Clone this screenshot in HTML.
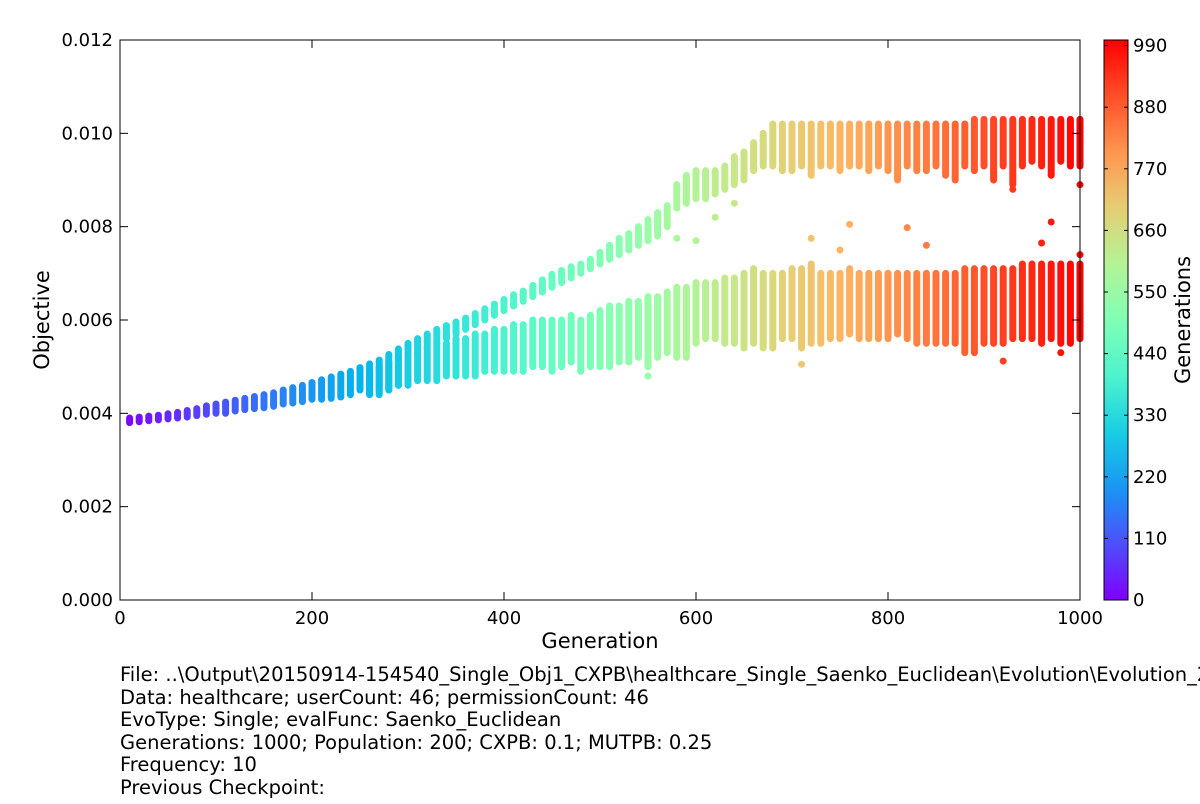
<!DOCTYPE html>
<html><head><meta charset="utf-8"><style>
body{margin:0;background:#fff;font-family:"DejaVu Sans",sans-serif}
svg text{font-family:"DejaVu Sans",sans-serif}
</style></head><body>
<svg id="chart" width="1200" height="800" xmlns="http://www.w3.org/2000/svg">
<defs>
<linearGradient id="cbg" x1="0" y1="1" x2="0" y2="0"></linearGradient>
</defs>
<g id="marks"></g>
<rect x="120" y="40" width="960" height="560" fill="none" stroke="#000" stroke-width="1"/>
<g id="axes"></g>
<text x="600" y="648" font-size="21" text-anchor="middle">Generation</text>
<text x="49" y="320" font-size="21" text-anchor="middle" transform="rotate(-90 49 320)">Objective</text>
<rect x="1104" y="40" width="24" height="560" fill="url(#cbg)" stroke="#000" stroke-width="1"/>
<g id="cbaxis"></g>
<text x="1190" y="320" font-size="21" text-anchor="middle" transform="rotate(-90 1190 320)">Generations</text>
<g font-size="19.5">
<text x="120" y="681">File: ..\Output\20150914-154540_Single_Obj1_CXPB\healthcare_Single_Saenko_Euclidean\Evolution\Evolution_2</text>
<text x="120" y="704">Data: healthcare; userCount: 46; permissionCount: 46</text>
<text x="120" y="726">EvoType: Single; evalFunc: Saenko_Euclidean</text>
<text x="120" y="749">Generations: 1000; Population: 200; CXPB: 0.1; MUTPB: 0.25</text>
<text x="120" y="771">Frequency: 10</text>
<text x="120" y="794">Previous Checkpoint:</text>
</g>
</svg>
<script>
const xTicks=[0,200,400,600,800,1000];
const yTicks=[0,0.002,0.004,0.006,0.008,0.010,0.012];
const yTickLabels=["0.000","0.002","0.004","0.006","0.008","0.010","0.012"];
const cbTicks=[0,110,220,330,440,550,660,770,880,990];
const upperHi=[3.9,3.92,3.94,3.96,3.99,4.02,4.06,4.1,4.16,4.2,
4.24,4.28,4.32,4.36,4.4,4.44,4.5,4.55,4.6,4.66,
4.72,4.78,4.84,4.9,4.98,5.06,5.14,5.26,5.38,5.5,
5.6,5.7,5.8,5.88,5.96,6.04,6.14,6.24,6.34,6.44,
6.54,6.62,6.74,6.86,6.98,7.06,7.14,7.2,7.3,7.45,
7.6,7.75,7.85,8,8.15,8.3,8.45,8.9,9.1,9.2,
9.2,9.2,9.3,9.5,9.6,9.8,10.0,10.2,10.2,10.2,
10.2,10.2,10.2,10.2,10.2,10.2,10.2,10.2,10.2,10.2,
10.2,10.2,10.2,10.2,10.2,10.2,10.2,10.2,10.3,10.3,
10.3,10.3,10.3,10.3,10.3,10.3,10.3,10.3,10.3,10.3];
const upperLo=[3.8,3.82,3.84,3.86,3.88,3.9,3.92,3.95,3.98,4.0,
4.0,4.05,4.08,4.1,4.12,4.15,4.2,4.22,4.25,4.3,
4.3,4.32,4.35,4.4,4.5,4.5,4.4,4.5,4.6,4.7,
5.3,5.4,5.5,5.6,5.7,5.8,5.9,6.0,6.1,6.2,
6.3,6.4,6.5,6.6,6.7,6.8,6.9,7.0,7.1,7.2,
7.3,7.4,7.5,7.6,7.7,7.8,8.0,8.4,8.5,8.6,
8.6,8.7,8.8,8.9,9.0,9.2,9.3,9.3,9.2,9.2,
9.3,9.1,9.3,9.3,9.2,9.3,9.3,9.2,9.3,9.2,
9.0,9.3,9.2,9.2,9.3,9.1,9.0,9.3,9.2,9.3,
9.0,9.3,8.9,9.3,9.4,9.3,9.1,9.4,9.3,9.3];
const lowerHi=[null,null,null,null,null,null,null,null,null,null,
null,null,null,null,null,null,null,null,null,null,
null,null,null,null,null,4.9,5.0,5.1,5.2,5.3,
5.3,5.4,5.5,5.5,5.6,5.6,5.7,5.7,5.8,5.8,
5.9,5.9,6.0,6.0,6.0,6.0,6.1,6.0,6.1,6.2,
6.3,6.3,6.4,6.4,6.5,6.5,6.6,6.7,6.7,6.8,
6.8,6.8,6.9,6.9,7.0,7.1,7.0,7.0,7.0,7.1,
7.1,7.2,7.0,7.0,7.0,7.1,7.0,7.0,7.0,7.0,
7.0,7.0,7.0,7.0,7.0,7.0,7.0,7.1,7.1,7.1,
7.1,7.1,7.1,7.2,7.2,7.2,7.2,7.2,7.2,7.2];
const lowerLo=[null,null,null,null,null,null,null,null,null,null,
null,null,null,null,null,null,null,null,null,null,
null,null,null,null,null,4.4,4.5,4.5,4.6,4.6,
4.7,4.7,4.7,4.8,4.8,4.8,4.8,4.9,4.9,4.9,
4.9,4.9,5.0,5.0,4.9,5.0,5.1,4.9,5.0,5.0,
5.0,5.1,5.1,5.2,5.0,5.2,5.3,5.2,5.2,5.5,
5.6,5.6,5.5,5.5,5.4,5.5,5.4,5.4,5.6,5.6,
5.4,5.5,5.5,5.6,5.6,5.7,5.6,5.6,5.6,5.6,
5.7,5.6,5.5,5.5,5.5,5.5,5.5,5.3,5.3,5.5,
5.5,5.5,5.6,5.6,5.6,5.5,5.6,5.5,5.5,5.6];
const outlierGen=[550,580,760,820,970,710,920,1000,930,600,720,840,960,1000,980,750,620,640];
const outlierVal=[4.8,7.75,8.05,7.98,8.1,5.05,5.12,8.9,8.8,7.7,7.75,7.6,7.65,7.4,5.3,7.5,8.2,8.5];

const NS="http://www.w3.org/2000/svg";
const X=v=>120+v/1000*960;
const Y=v=>600-v/12*560;
const YT=v=>600-v/0.012*560;
function cmap(t){t=Math.max(0,Math.min(1,t));
 const r=Math.min(1,Math.abs(2*t-0.5)),g=Math.sin(Math.PI*t),b=Math.cos(Math.PI*t/2);
 return `rgb(${Math.round(r*255)},${Math.round(g*255)},${Math.round(b*255)})`;}
const marks=document.getElementById('marks');
function seg(g,a,b){
 const l=document.createElementNS(NS,'line');
 
 
 l.setAttribute('x1',X(g));l.setAttribute('x2',X(g));
 l.setAttribute('y1',Y(a));l.setAttribute('y2',Y(b));
 l.setAttribute('stroke',cmap(g/1000));l.setAttribute('stroke-width','7');
 l.setAttribute('stroke-linecap','round');marks.appendChild(l);}
for(let i=0;i<upperHi.length;i++){
 const g=(i+1)*10;
 seg(g,upperLo[i],upperHi[i]);
 if(lowerHi[i]!==null) seg(g,lowerLo[i],lowerHi[i]);
}
for(let i=0;i<outlierGen.length;i++){
 const c=document.createElementNS(NS,'circle');
 
 
 c.setAttribute('cx',X(outlierGen[i]));c.setAttribute('cy',Y(outlierVal[i]));
 c.setAttribute('r','3.5');c.setAttribute('fill',cmap(outlierGen[i]/1000));marks.appendChild(c);
}
const axes=document.getElementById('axes');
function el(tag,attrs,parent,txt){const e=document.createElementNS(NS,tag);for(const k in attrs)e.setAttribute(k,attrs[k]);if(txt!==undefined)e.textContent=txt;parent.appendChild(e);return e;}
xTicks.forEach(v=>{
 const t=el('line',{x1:X(v),x2:X(v),y1:600,y2:592,stroke:'#000'},axes);
 
 el('line',{x1:X(v),x2:X(v),y1:40,y2:48,stroke:'#000'},axes);
 const l=el('text',{x:X(v),y:624,'font-size':18,'text-anchor':'middle'},axes,String(v));
 
});
yTicks.forEach((v,i)=>{
 el('line',{x1:120,x2:128,y1:YT(v),y2:YT(v),stroke:'#000'},axes);
 el('line',{x1:1072,x2:1080,y1:YT(v),y2:YT(v),stroke:'#000'},axes);
 const l=el('text',{x:113,y:YT(v)+6,'font-size':18,'text-anchor':'end'},axes,yTickLabels[i]);
 
});
const grad=document.getElementById('cbg');
for(let i=0;i<=10;i++){el('stop',{offset:(i*10)+'%','stop-color':cmap(i/10)},grad);}
const cb=document.getElementById('cbaxis');
cbTicks.forEach(v=>{
 const y=600-v/1000*560;
 el('line',{x1:1104,x2:1108,y1:y,y2:y,stroke:'#000'},cb);
 el('line',{x1:1124,x2:1128,y1:y,y2:y,stroke:'#000'},cb);
 const l=el('text',{x:1133,y:y+6,'font-size':18},cb,String(v));
 
});
</script>
</body></html>
